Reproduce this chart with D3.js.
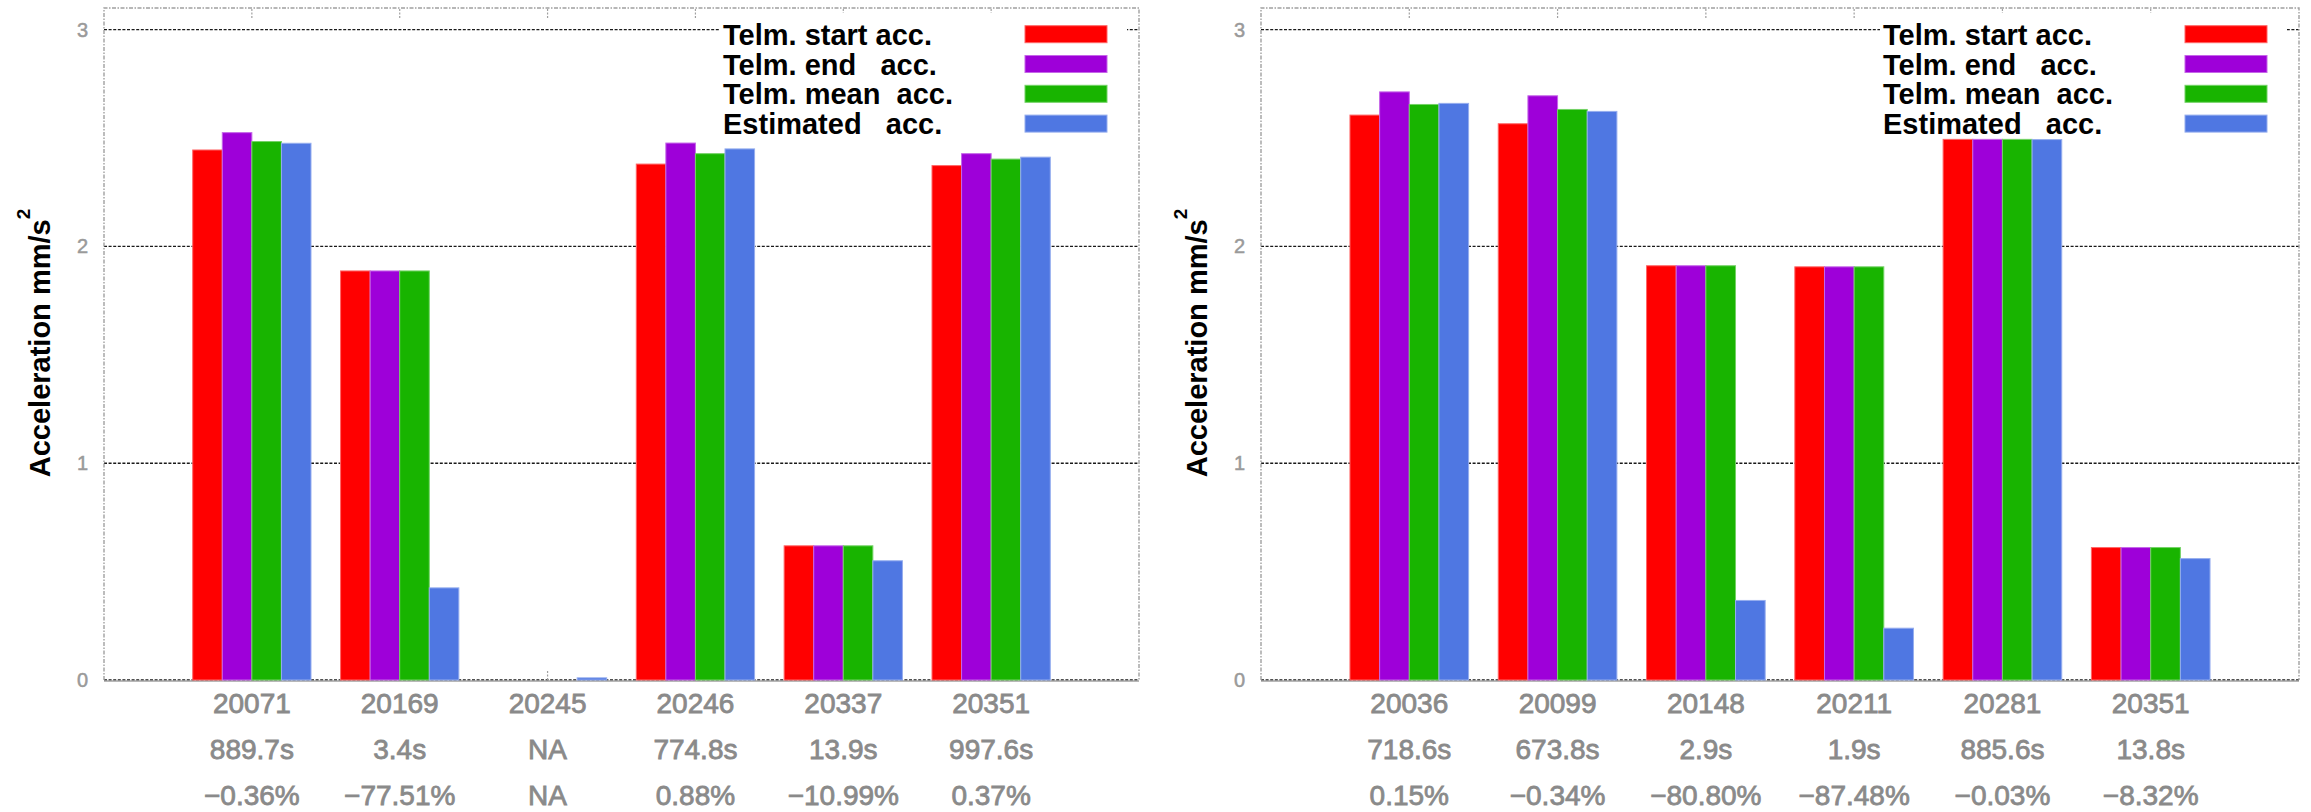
<!DOCTYPE html>
<html>
<head>
<meta charset="utf-8">
<script src="https://cdn.jsdelivr.net/npm/d3@7"></script>
<style>
  html, body { margin: 0; padding: 0; background: #fff; }
  svg { display: block; }
</style>
</head>
<body>
<script>
// Series shown in each panel
const seriesNames = ["Telm. start acc.", "Telm. end   acc.", "Telm. mean  acc.", "Estimated   acc."];
const seriesColors = ["#ff0000", "#9e00d9", "#18b400", "#4f77e2"];
const yTicks = [0, 1, 2, 3];

// Left panel
const leftIds = ["20071", "20169", "20245", "20246", "20337", "20351"];
const leftDur = ["889.7s", "3.4s", "NA", "774.8s", "13.9s", "997.6s"];
const leftPct = ["\u22120.36%", "\u221277.51%", "NA", "0.88%", "\u221210.99%", "0.37%"];
const leftStart = [2.445, 1.887, 0, 2.380, 0.619, 2.373];
const leftEnd   = [2.525, 1.887, 0, 2.477, 0.619, 2.428];
const leftMean  = [2.484, 1.887, 0, 2.428, 0.619, 2.403];
const leftEst   = [2.476, 0.425, 0.01, 2.450, 0.550, 2.412];

// Right panel
const rightIds = ["20036", "20099", "20148", "20211", "20281", "20351"];
const rightDur = ["718.6s", "673.8s", "2.9s", "1.9s", "885.6s", "13.8s"];
const rightPct = ["0.15%", "\u22120.34%", "\u221280.80%", "\u221287.48%", "\u22120.03%", "\u22128.32%"];
const rightStart = [2.606, 2.566, 1.911, 1.906, 2.494, 0.611];
const rightEnd   = [2.713, 2.695, 1.911, 1.906, 2.494, 0.611];
const rightMean  = [2.655, 2.632, 1.911, 1.906, 2.494, 0.611];
const rightEst   = [2.660, 2.623, 0.367, 0.239, 2.493, 0.560];

const W = 2311, H = 812;
const plotTop = 8, plotBottom = 680;

const panels = [
  { left: 104, right: 1139, ids: leftIds, dur: leftDur, pct: leftPct,
    values: [leftStart, leftEnd, leftMean, leftEst] },
  { left: 1261, right: 2299, ids: rightIds, dur: rightDur, pct: rightPct,
    values: [rightStart, rightEnd, rightMean, rightEst] }
];

const svg = d3.select("body").append("svg")
  .attr("width", W).attr("height", H)
  .attr("viewBox", `0 0 ${W} ${H}`);

svg.append("rect").attr("width", W).attr("height", H).attr("fill", "#fff");

const y = d3.scaleLinear().domain([0, 3.1]).range([plotBottom, plotTop]);

const frameColor = "#a0a0a0";
const labelColor = "#8a8a8a";
const font = "'Liberation Sans', Arial, sans-serif";

panels.forEach(p => {
  const g = svg.append("g");

  const x = d3.scaleBand()
    .domain(p.ids)
    .range([p.left, p.right])
    .paddingInner(0.2)
    .paddingOuter(0.6);
  const xs = d3.scaleBand()
    .domain(d3.range(seriesNames.length))
    .range([0, x.bandwidth()]);

  // horizontal grid
  g.append("g").selectAll("line")
    .data(yTicks)
    .join("line")
    .attr("x1", p.left).attr("x2", p.right)
    .attr("y1", d => y(d)).attr("y2", d => y(d))
    .attr("stroke", "#1a1a1a")
    .attr("stroke-width", 1.3)
    .attr("stroke-dasharray", "3,1.6");

  // frame: left, top, right (grey dashed), bottom
  const fr = g.append("g")
    .attr("fill", "none")
    .attr("stroke", frameColor)
    .attr("stroke-width", 1.4);
  fr.append("path")
    .attr("d", `M${p.left},${plotBottom}V${plotTop}H${p.right}V${plotBottom}`)
    .attr("stroke-dasharray", "4,1.5,1.5,1.5");
  fr.append("line")
    .attr("x1", p.left).attr("x2", p.right)
    .attr("y1", plotBottom + 1).attr("y2", plotBottom + 1);

  // category ticks on top and bottom borders
  const tk = g.append("g")
    .attr("stroke", frameColor)
    .attr("stroke-width", 1.2)
    .attr("stroke-dasharray", "2,1.5");
  tk.selectAll("line.t")
    .data(p.ids).join("line")
    .attr("x1", d => x(d) + x.bandwidth() / 2).attr("x2", d => x(d) + x.bandwidth() / 2)
    .attr("y1", plotTop + 1).attr("y2", plotTop + 11);
  tk.selectAll("line.b")
    .data(p.ids).join("line")
    .attr("x1", d => x(d) + x.bandwidth() / 2).attr("x2", d => x(d) + x.bandwidth() / 2)
    .attr("y1", plotBottom).attr("y2", plotBottom - 10);

  // legend background and entries
  const lg = g.append("g");
  lg.append("rect")
    .attr("x", p.right - 419).attr("y", 13)
    .attr("width", 407).attr("height", 124)
    .attr("fill", "#fff");
  seriesNames.forEach((name, k) => {
    lg.append("text")
      .attr("x", p.right - 416)
      .attr("y", 45 + 29.5 * k)
      .attr("font-family", font)
      .attr("font-weight", "bold")
      .attr("font-size", 29)
      .attr("fill", "#000")
      .style("white-space", "pre")
      .text(name);
    lg.append("rect")
      .attr("x", p.right - 114).attr("y", 25.7 + 29.8 * k)
      .attr("width", 82).attr("height", 17)
      .attr("fill", seriesColors[k])
      .attr("stroke", d3.interpolateRgb(seriesColors[k], "#fff")(0.4))
      .attr("stroke-width", 1);
  });

  // bars
  const rows = p.ids.map((id, i) => ({ id, vals: p.values.map(s => s[i]) }));
  g.append("g").selectAll("g")
    .data(rows)
    .join("g")
    .attr("transform", d => `translate(${x(d.id)},0)`)
    .selectAll("rect")
    .data(d => d.vals.map((v, k) => ({ v, k })).filter(e => e.v > 0))
    .join("rect")
    .attr("x", e => xs(e.k))
    .attr("width", xs.bandwidth())
    .attr("y", e => y(e.v))
    .attr("height", e => y(0) - y(e.v))
    .attr("fill", e => seriesColors[e.k])
    .attr("stroke", e => d3.interpolateRgb(seriesColors[e.k], "#fff")(0.4))
    .attr("stroke-width", 1);

  // y axis labels
  const ya = g.append("g")
    .attr("transform", `translate(${p.left},0)`)
    .call(d3.axisLeft(y).tickValues(yTicks).tickSize(0).tickPadding(16).tickFormat(d3.format("d")));
  ya.select(".domain").remove();
  ya.selectAll("text")
    .attr("font-family", font)
    .attr("font-size", 20)
    .attr("fill", "#9a9a9a")
    .attr("stroke", "#9a9a9a")
    .attr("stroke-width", 0.5);

  // x axis labels: id, duration, deviation
  const xa = g.append("g")
    .attr("transform", `translate(0,${plotBottom})`)
    .call(d3.axisBottom(x).tickSize(0));
  xa.select(".domain").remove();
  xa.selectAll(".tick text")
    .attr("dy", null)
    .attr("y", 0)
    .attr("font-family", font)
    .attr("font-size", 28)
    .attr("fill", labelColor)
    .attr("stroke", labelColor)
    .attr("stroke-width", 0.8)
    .each(function (d, i) {
      const t = d3.select(this);
      t.text(null);
      [d, p.dur[i], p.pct[i]].forEach((s, r) => {
        t.append("tspan").attr("x", 0).attr("y", 33 + 46 * r).text(s);
      });
    });

  // y axis title
  const title = g.append("text")
    .attr("transform", `translate(${p.left - 54},343) rotate(-90)`)
    .attr("text-anchor", "middle")
    .attr("font-family", font)
    .attr("font-weight", "bold")
    .attr("font-size", 29)
    .attr("fill", "#000");
  title.append("tspan").text("Acceleration mm/s");
  title.append("tspan").attr("dy", -20).attr("font-size", 19).text("2");
});
</script>
</body>
</html>
